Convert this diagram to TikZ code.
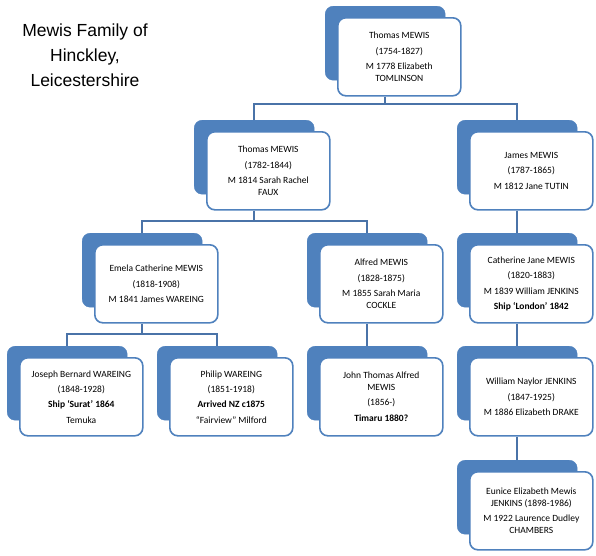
\documentclass[tikz,border=0pt]{standalone}
\usepackage{fontspec}
\setmainfont{Carlito}
\newfontfamily\titlefont{Liberation Sans}
\definecolor{accblue}{HTML}{4F81BD}
\definecolor{lineblue}{HTML}{4A73A8}
\newcommand\pbr{\\[3.5pt]}
\tikzset{
  backbox/.style={fill=accblue, draw=accblue, rounded corners=8pt,
    minimum width=120pt, minimum height=74pt, anchor=north west, inner sep=0pt},
  frontbox/.style={fill=white, draw=accblue, line width=1.6pt, rounded corners=8pt,
    minimum width=123pt, minimum height=78pt, anchor=north west, align=center,
    font=\fontsize{9.5}{11.8}\selectfont, inner sep=0pt},
  link/.style={draw=lineblue, line width=1.6pt},
  titletext/.style={font=\titlefont\fontsize{17.5}{25}\selectfont, align=center}
}
\newcommand\famcard[4]{%
  \node[backbox] (#1b) at (#2,#3) {};
  \node[frontbox] (#1) at ({#2+12},{#3+11}) {#4};
}
\begin{document}
\begin{tikzpicture}[x=1pt,y=-1pt]
\useasboundingbox (0,0) rectangle (596,555);
\node[titletext] (title) at (85,55) {Mewis Family of\\Hinckley,\\Leicestershire};

\famcard{tmA}{325}{6}{Thomas MEWIS\pbr(1754-1827)\pbr M 1778 Elizabeth\\TOMLINSON}
\famcard{tmB}{194}{120}{Thomas MEWIS\pbr(1782-1844)\pbr M 1814 Sarah Rachel\\FAUX}
\famcard{jm}{457}{120}{James MEWIS\pbr(1787-1865)\pbr M 1812 Jane TUTIN}
\famcard{ecm}{82}{233}{Emela Catherine MEWIS\pbr(1818-1908)\pbr M 1841 James WAREING}
\famcard{am}{307}{233}{Alfred MEWIS\pbr(1828-1875)\pbr M 1855 Sarah Maria\\COCKLE}
\famcard{cjm}{457}{233}{Catherine Jane MEWIS\pbr(1820-1883)\pbr M 1839 William JENKINS\pbr\textbf{Ship ‘London’ 1842}}
\famcard{jbw}{7}{346}{Joseph Bernard WAREING\pbr(1848-1928)\pbr\textbf{Ship ‘Surat’ 1864}\pbr Temuka}
\famcard{pw}{157}{346}{Philip WAREING\pbr(1851-1918)\pbr\textbf{Arrived NZ c1875}\pbr“Fairview” Milford}
\famcard{jtam}{307}{346}{John Thomas Alfred\\MEWIS\pbr(1856-)\pbr\textbf{Timaru 1880?}}
\famcard{wnj}{457}{346}{William Naylor JENKINS\pbr(1847-1925)\pbr M 1886 Elizabeth DRAKE}
\famcard{eej}{457}{460}{Eunice Elizabeth Mewis\\JENKINS (1898-1986)\pbr M 1922 Laurence Dudley\\CHAMBERS}

\coordinate (busA) at (0,104);
\coordinate (busB) at (0,221);
\coordinate (busC) at (0,334);

\draw[link] (tmAb.center |- tmA.south) -- (tmAb.center |- busA);
\draw[link] (tmBb.north) -- (tmBb.north |- busA) -- (jmb.north |- busA) -- (jmb.north);

\draw[link] (tmBb.center |- tmB.south) -- (tmBb.center |- busB);
\draw[link] (ecmb.north) -- (ecmb.north |- busB) -- (amb.north |- busB) -- (amb.north);

\draw[link] (ecmb.center |- ecm.south) -- (ecmb.center |- busC);
\draw[link] (jbwb.north) -- (jbwb.north |- busC) -- (pwb.north |- busC) -- (pwb.north);

\draw[link] (amb.center |- am.south) -- (jtamb.north);
\draw[link] (jmb.center |- jm.south) -- (cjmb.north);
\draw[link] (cjmb.center |- cjm.south) -- (wnjb.north);
\draw[link] (wnjb.center |- wnj.south) -- (eejb.north);
\end{tikzpicture}
\end{document}
